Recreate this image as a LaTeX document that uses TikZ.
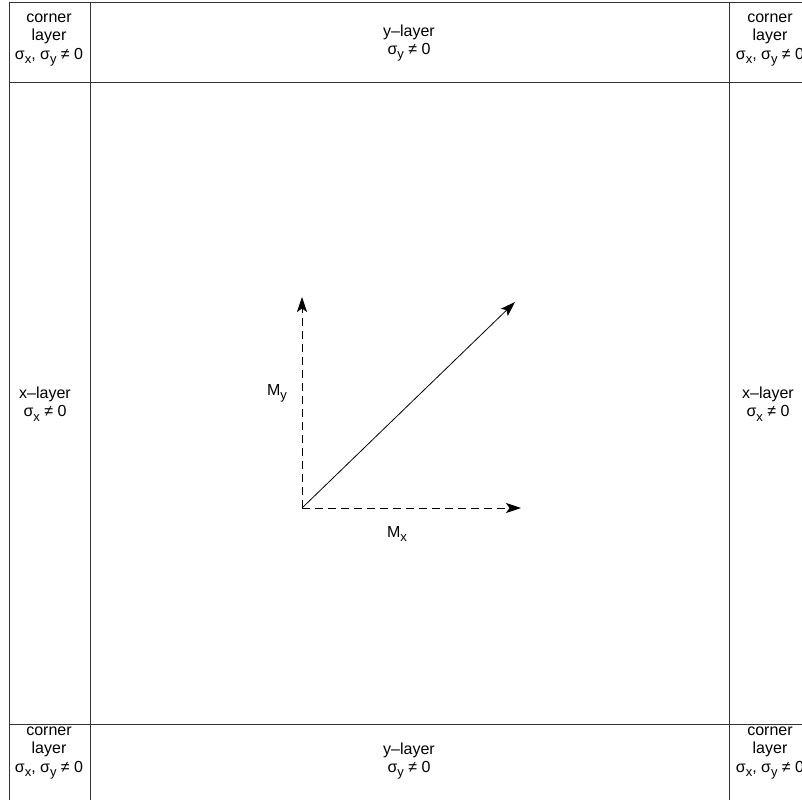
\documentclass[tikz,border=0pt]{standalone}
\usepackage{fontspec}
\setmainfont{Liberation Sans}
\usetikzlibrary{positioning,arrows.meta}
\newcommand{\sub}[1]{\raisebox{-0.5ex}{\fontsize{13}{13}\selectfont #1}}
\newcommand{\sig}[1]{σ\sub{#1}}

\begin{document}
\begin{tikzpicture}[
    x=1pt, y=-1pt,
    layer/.style={align=center, inner sep=0pt, font=\fontsize{16}{18.5}\selectfont},
    wall/.style={draw=black!80, line width=0.9pt},
    comp/.style={-{Stealth[length=15pt, width=10pt, inset=3.5pt]}, line width=0.8pt, dash pattern=on 8pt off 5pt},
    res/.style={-{Stealth[length=15pt, width=10pt, inset=3.5pt]}, line width=0.8pt},
    lbl/.style={font=\fontsize{16}{18}\selectfont}
]
\useasboundingbox (0,0) rectangle (802,803);

% Grid of layers
\draw[wall] (9,2) -- (802,2);
\draw[wall] (9,82) -- (802,82);
\draw[wall] (9,724) -- (802,724);
\draw[wall] (9,2) -- (9,800);
\draw[wall] (90,2) -- (90,800);
\draw[wall] (729,2) -- (729,800);

% Layer labels
\node[layer] (cnw) at (49,40) {corner\\layer\\\sig{x}, \sig{y} ≠ 0};
\node[layer] (cne) at (770,40) {corner\\layer\\\sig{x}, \sig{y} ≠ 0};
\node[layer] (csw) at (49,753) {corner\\layer\\\sig{x}, \sig{y} ≠ 0};
\node[layer] (cse) at (770,753) {corner\\layer\\\sig{x}, \sig{y} ≠ 0};
\node[layer] (ytop) at (409,43) {y--layer\\\sig{y} ≠ 0};
\node[layer] (ybot) at (409,761) {y--layer\\\sig{y} ≠ 0};
\node[layer] (xleft) at (45,404) {x--layer\\\sig{x} ≠ 0};
\node[layer] (xright) at (768,404) {x--layer\\\sig{x} ≠ 0};

% Moment vectors
\coordinate (o) at (302,508);
\coordinate (mx) at (521,508);
\coordinate (my) at (302,297);
\coordinate (m) at (515,302);
\draw[comp] (o) -- (mx);
\draw[comp] (o) -- (my);
\draw[res] (o) -- (m);
\node[lbl] (lx) at (397,534) {M\sub{x}};
\node[lbl] (ly) at (277,393) {M\sub{y}};
\end{tikzpicture}
\end{document}
